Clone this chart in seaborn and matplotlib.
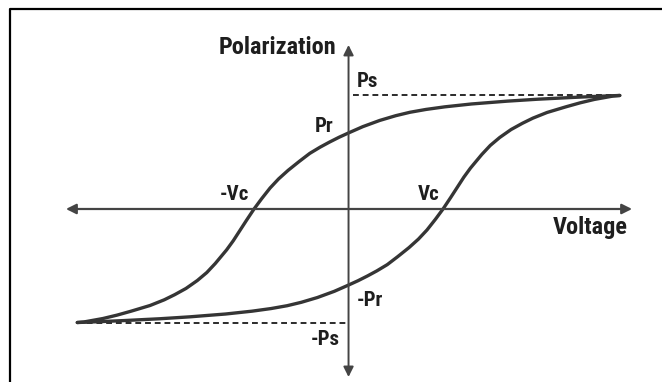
import pandas as pd
import matplotlib
matplotlib.use("Agg")
import matplotlib.pyplot as plt
import seaborn as sns

# hysteresis loop (Vc = 1, Ps = 1)
upper_v = [-2.87, -2.80, -2.70, -2.60, -2.45, -2.30, -2.10, -1.95, -1.84, -1.72,
           -1.60, -1.50, -1.41, -1.35, -1.29, -1.22, -1.15, -1.08, -1.00, -0.92,
           -0.83, -0.74, -0.64, -0.52, -0.41, -0.30, -0.20, -0.10, 0.00, 0.15,
           0.33, 0.50, 0.65, 0.82, 1.02, 1.30, 1.68, 2.00, 2.38, 2.65, 2.87]
upper_p = [-1.00, -0.995, -0.98, -0.965, -0.935, -0.90, -0.85, -0.80, -0.755, -0.70,
           -0.63, -0.56, -0.48, -0.42, -0.36, -0.28, -0.19, -0.10, 0.00, 0.09,
           0.185, 0.265, 0.34, 0.42, 0.49, 0.545, 0.59, 0.632, 0.67, 0.725,
           0.78, 0.822, 0.852, 0.877, 0.90, 0.925, 0.95, 0.967, 0.983, 0.993, 1.00]
lower_v = [-2.87, -2.65, -2.38, -2.00, -1.68, -1.30, -1.02, -0.82, -0.65, -0.50,
           -0.33, -0.15, 0.00, 0.10, 0.20, 0.30, 0.41, 0.52, 0.64, 0.74,
           0.83, 0.92, 1.00, 1.08, 1.15, 1.22, 1.29, 1.35, 1.41, 1.50,
           1.60, 1.72, 1.84, 1.95, 2.10, 2.30, 2.45, 2.60, 2.70, 2.80, 2.87]
lower_p = [-1.00, -0.993, -0.983, -0.967, -0.95, -0.925, -0.90, -0.877, -0.852, -0.822,
           -0.78, -0.725, -0.67, -0.632, -0.59, -0.545, -0.49, -0.42, -0.34, -0.265,
           -0.185, -0.09, 0.00, 0.10, 0.19, 0.28, 0.36, 0.42, 0.48, 0.56,
           0.63, 0.70, 0.755, 0.80, 0.85, 0.90, 0.935, 0.965, 0.98, 0.995, 1.00]

ps, v_sat = 1.0, 2.87

df = pd.concat([
    pd.DataFrame({"V": upper_v, "P": upper_p, "branch": "upper"}),
    pd.DataFrame({"V": lower_v, "P": lower_p, "branch": "lower"}),
])

sns.set_theme(style="white")
plt.rcParams["font.family"] = ["Roboto Condensed", "Liberation Sans Narrow",
                               "DejaVu Sans Condensed", "Roboto", "DejaVu Sans"]

fig = plt.figure(figsize=(6.62, 3.82), dpi=100)
ax = fig.add_axes([0, 0, 1, 1])
ax.set_xlim(-3.688, 3.317)
ax.set_ylim(-1.524, 1.841)
ax.axis("off")

ink = "#2b2b2b"

# axes with arrows
ax.annotate("", xy=(3.0, 0), xytext=(-2.99, 0),
            arrowprops=dict(arrowstyle="<|-|>", color="#444444", lw=1.6,
                            mutation_scale=15, shrinkA=0, shrinkB=0))
ax.annotate("", xy=(0, 1.445), xytext=(0, -1.48),
            arrowprops=dict(arrowstyle="<|-|>", color="#444444", lw=1.4,
                            mutation_scale=15, shrinkA=0, shrinkB=0))

# saturation guides
ax.plot([0.05, v_sat], [ps, ps], ls=(0, (3, 2)), color=ink, lw=1.4)
ax.plot([-v_sat, -0.03], [-ps, -ps], ls=(0, (3, 2)), color=ink, lw=1.4)

sns.lineplot(data=df, x="V", y="P", units="branch", estimator=None, sort=False,
             color="#353535", lw=2.4, ax=ax)

kw = dict(color="#1e1e1e", fontweight="bold", fontstretch="condensed")
ax.text(-0.13, 1.423, "Polarization", ha="right", va="center", fontsize=17.5, **kw)
ax.text(0.09, 1.123, "Ps", ha="left", va="center", fontsize=15, **kw)
ax.text(-0.164, 0.731, "Pr", ha="right", va="center", fontsize=15, **kw)
ax.text(-1.053, 0.132, "-Vc", ha="right", va="center", fontsize=15, **kw)
ax.text(0.958, 0.132, "Vc", ha="right", va="center", fontsize=15, **kw)
ax.text(2.556, -0.163, "Voltage", ha="center", va="center", fontsize=17.5, **kw)
ax.text(0.09, -0.806, "-Pr", ha="left", va="center", fontsize=15, **kw)
ax.text(-0.09, -1.154, "-Ps", ha="right", va="center", fontsize=15, **kw)

# frame (left and top edges)
ax.plot([9.5 / 662, 9.5 / 662, 1.0], [0.0, 1 - 8.5 / 382, 1 - 8.5 / 382],
        transform=ax.transAxes, color="black", lw=1.6, clip_on=False)

fig.savefig("out.png", dpi=100)
